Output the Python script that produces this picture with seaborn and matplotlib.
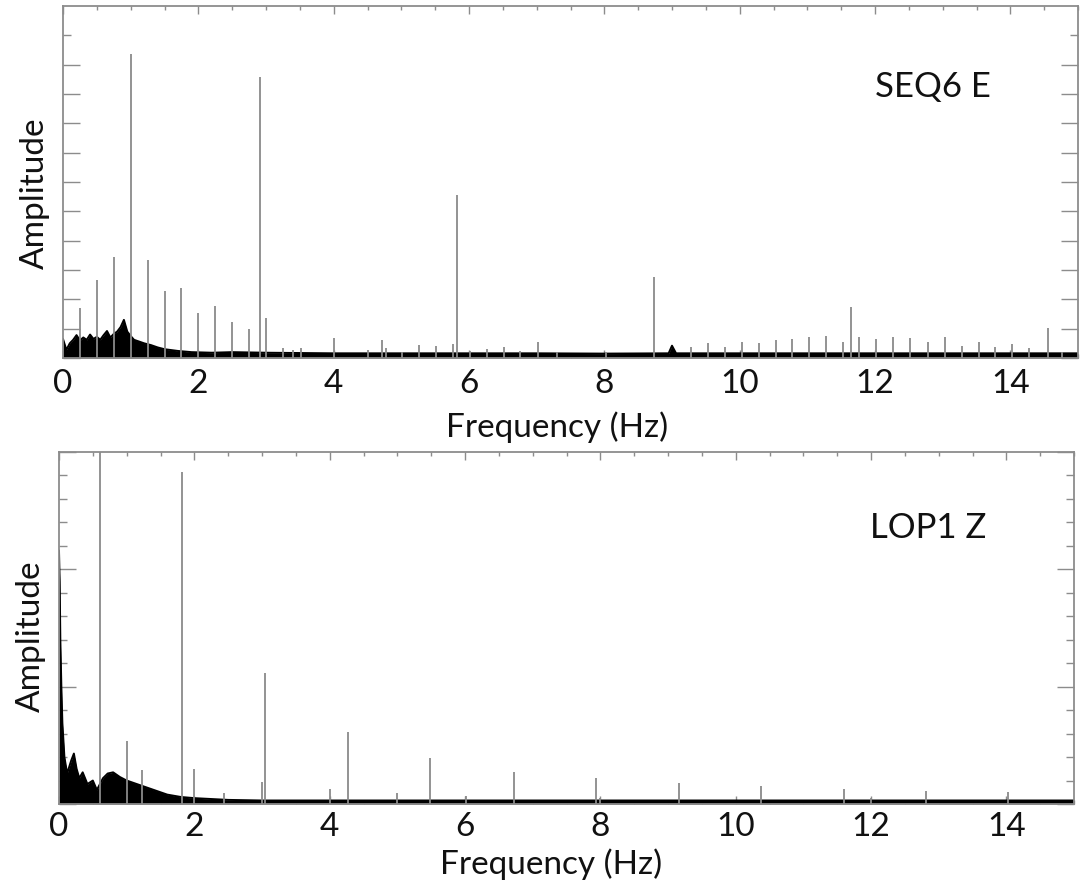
import matplotlib
matplotlib.use("Agg")
import numpy as np
import pandas as pd
import seaborn as sns
import matplotlib.pyplot as plt
from matplotlib.ticker import FixedLocator, MultipleLocator, NullFormatter

# ---------------- data ----------------
# SEQ6 E : discrete spectral lines
seq6_peak_freq = [0.25, 0.50, 0.75, 1.00, 1.25, 1.50, 1.75, 2.00, 2.25, 2.50, 2.75, 2.91, 3.00,
                  3.25, 3.40, 3.51, 4.00, 4.50, 4.71, 4.77, 5.01, 5.26, 5.51, 5.76, 5.83, 6.01,
                  6.26, 6.51, 6.76, 7.02, 7.30, 8.02, 8.73, 9.28, 9.53, 9.78, 10.03, 10.28,
                  10.53, 10.78, 11.02, 11.28, 11.52, 11.65, 11.77, 12.02, 12.27, 12.52, 12.78,
                  13.03, 13.28, 13.53, 13.78, 14.03, 14.28, 14.55, 14.77]
seq6_peak_amp = [1.70, 2.66, 3.44, 10.36, 3.34, 2.28, 2.39, 1.53, 1.77, 1.23, 0.99, 9.57, 1.36,
                 0.34, 0.27, 0.34, 0.68, 0.27, 0.61, 0.34, 0.20, 0.44, 0.41, 0.47, 5.55, 0.24,
                 0.31, 0.36, 0.24, 0.55, 0.20, 0.20, 2.77, 0.38, 0.50, 0.38, 0.55, 0.52,
                 0.61, 0.65, 0.71, 0.75, 0.53, 1.75, 0.71, 0.65, 0.70, 0.68, 0.55,
                 0.71, 0.41, 0.53, 0.38, 0.47, 0.34, 1.01, 0.20]
# SEQ6 E : upper envelope of the broadband noise floor
seq6_noise_freq = [0.00, 0.02, 0.05, 0.10, 0.15, 0.20, 0.25, 0.30, 0.35, 0.40, 0.45, 0.50, 0.55,
                   0.60, 0.65, 0.70, 0.75, 0.80, 0.85, 0.90, 0.95, 1.00, 1.05, 1.10, 1.20, 1.30,
                   1.40, 1.50, 1.70, 1.90, 2.20, 2.50, 3.00, 3.50, 4.00, 5.00, 6.00, 7.00, 8.00,
                   8.95, 9.00, 9.06, 10.00, 11.00, 12.00, 13.00, 14.00, 15.00]
seq6_noise_amp = [0.65, 0.50, 0.28, 0.50, 0.62, 0.78, 0.60, 0.70, 0.62, 0.80, 0.65, 0.72, 0.62,
                  0.78, 0.92, 0.70, 0.82, 0.90, 1.05, 1.30, 0.90, 0.75, 0.62, 0.58, 0.50, 0.44,
                  0.36, 0.30, 0.24, 0.20, 0.18, 0.20, 0.18, 0.17, 0.16, 0.16, 0.16, 0.16, 0.15,
                  0.16, 0.42, 0.16, 0.16, 0.16, 0.16, 0.16, 0.16, 0.16]

# LOP1 Z : discrete spectral lines
lop1_peak_freq = [0.61, 1.00, 1.23, 1.82, 2.00, 2.44, 3.00, 3.05, 4.00, 4.27, 5.00, 5.49, 6.01,
                  6.72, 7.93, 8.00, 9.16, 10.38, 11.60, 12.00, 12.82, 14.03]
lop1_peak_amp = [3.30, 0.54, 0.29, 2.83, 0.30, 0.09, 0.19, 1.12, 0.13, 0.61, 0.09, 0.39, 0.07,
                 0.27, 0.22, 0.05, 0.18, 0.15, 0.13, 0.05, 0.11, 0.10]
# LOP1 Z : upper envelope of the broadband noise floor
lop1_noise_freq = [0.00, 0.01, 0.02, 0.035, 0.05, 0.08, 0.12, 0.18, 0.22, 0.26, 0.30, 0.35, 0.42,
                   0.50, 0.56, 0.65, 0.72, 0.80, 0.90, 1.00, 1.20, 1.40, 1.60, 1.80, 2.00, 2.50,
                   3.00, 5.00, 8.00, 11.00, 15.00]
lop1_noise_amp = [2.16, 1.90, 1.40, 1.00, 0.69, 0.40, 0.26, 0.37, 0.43, 0.30, 0.22, 0.27, 0.17,
                  0.20, 0.12, 0.22, 0.26, 0.27, 0.23, 0.20, 0.16, 0.12, 0.08, 0.06, 0.05, 0.035,
                  0.03, 0.03, 0.03, 0.03, 0.03]

panel_names = ["SEQ6 E", "LOP1 Z"]
x_tick_labels = ["0", "2", "4", "6", "8", "10", "12", "14"]

# ---------------- style ----------------
sns.set_theme(style="white")
plt.rcParams['font.family'] = ['Lato', 'DejaVu Sans']

SPINE = "#8c8c8c"
SPIKE = "#8a8a8a"
FS = 24

fig = plt.figure(figsize=(10.8, 8.92), dpi=100)
ax1 = fig.add_axes([63 / 1080, 1 - 358 / 892, (1078 - 63) / 1080, 352 / 892])
ax2 = fig.add_axes([59 / 1080, 1 - 804 / 892, (1074 - 59) / 1080, 352 / 892])


def draw(ax, pf, pa, nf, na, name, ylim, ymaj, ymin, tx, ty, xl_pos, yl_pos, tpad):
    noise = pd.DataFrame({"f": nf, "a": na})
    ax.fill_between(noise["f"], 0, noise["a"], color="black", linewidth=0)
    sns.lineplot(data=noise, x="f", y="a", ax=ax, color="black", linewidth=1.4)
    ax.vlines(pf, 0, pa, color=SPIKE, linewidth=1.3)
    ax.set_xlim(0, 15)
    ax.set_ylim(*ylim)
    ax.xaxis.set_major_locator(FixedLocator([0, 2, 4, 6, 8, 10, 12, 14]))
    ax.set_xticklabels(x_tick_labels)
    ax.xaxis.set_minor_locator(MultipleLocator(0.5))
    ax.yaxis.set_major_locator(FixedLocator(ymaj))
    ax.yaxis.set_minor_locator(FixedLocator(ymin))
    ax.yaxis.set_major_formatter(NullFormatter())
    ax.tick_params(axis="x", which="major", direction="in", length=6, width=1, color=SPINE,
                   top=True, bottom=True, labelsize=FS, pad=tpad, labelcolor="#111111")
    ax.tick_params(axis="x", which="minor", direction="in", length=3, width=1, color=SPINE,
                   top=True, bottom=True)
    ax.tick_params(axis="y", which="major", direction="in", length=12, width=1, color=SPINE,
                   left=True, right=True, labelleft=False)
    ax.tick_params(axis="y", which="minor", direction="in", length=6, width=1, color=SPINE,
                   left=True, right=True)
    for s in ax.spines.values():
        s.set_color(SPINE)
        s.set_linewidth(1.3)
        s.set_visible(True)
    ax.set_xlabel("Frequency (Hz)", fontsize=FS, color="#111111")
    ax.set_ylabel("Amplitude", fontsize=FS, color="#111111")
    ax.xaxis.set_label_coords(*xl_pos)
    ax.yaxis.set_label_coords(*yl_pos)
    ax.text(tx, ty, name, transform=ax.transAxes, fontsize=FS + 1, ha="center", va="center",
            color="#111111")
    ax.grid(False)


draw(ax1, seq6_peak_freq, seq6_peak_amp, seq6_noise_freq, seq6_noise_amp, panel_names[0],
     (0, 12), list(range(0, 11)), [11], 0.857, 0.77, (0.487, -0.152), (-0.0128, 0.469), 8)
draw(ax2, lop1_peak_freq, lop1_peak_amp, lop1_noise_freq, lop1_noise_amp, panel_names[1],
     (0, 3), [0, 1, 2, 3], list(np.arange(0.2, 3.0, 0.2)), 0.856, 0.784,
     (0.485, -0.127), (-0.0128, 0.477), 6)

fig.savefig("out.png", dpi=100, facecolor="white")
